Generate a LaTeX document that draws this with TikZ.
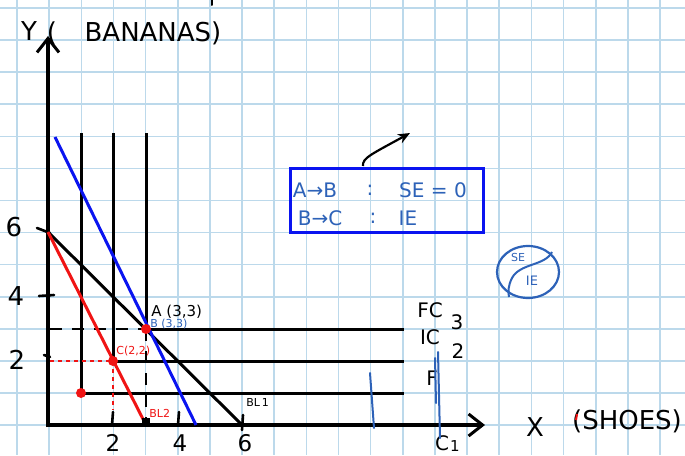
\documentclass[tikz,border=0pt]{standalone}
\usepackage{fontspec}
\setmainfont{DejaVu Sans}
\usetikzlibrary{arrows.meta,shapes.geometric}
\definecolor{gridc}{HTML}{BCD9EB}
\definecolor{penblue}{HTML}{2D62B8}
\definecolor{lineblue}{HTML}{0A14F0}
\definecolor{penred}{HTML}{F01414}
\begin{document}
\begin{tikzpicture}[x=0.5pt,y=-0.5pt,
  axis/.style={line width=1.7pt, -{Straight Barb[length=7pt,width=11pt,line width=1.5pt]}},
  icline/.style={line width=1.5pt, black},
  blk/.style={line width=1.5pt, black},
  redl/.style={line width=1.5pt, penred},
  bluel/.style={line width=1.5pt, lineblue},
  tickm/.style={line width=1.3pt, black, line cap=round},
  dashblk/.style={line width=1.2pt, black, dash pattern=on 6pt off 5pt},
  dotred/.style={line width=1.1pt, penred, dash pattern=on 2pt off 2pt},
  reddot/.style={circle, fill=penred, inner sep=0pt, minimum size=5pt},
  big/.style={font=\fontsize{13}{15}\selectfont, inner sep=0pt},
  bot/.style={font=\fontsize{11.5}{13}\selectfont, inner sep=0pt},
  mid/.style={font=\fontsize{10}{12}\selectfont, inner sep=0pt},
  sml/.style={font=\fontsize{7.5}{9}\selectfont, inner sep=0pt},
  tny/.style={font=\fontsize{5.5}{6}\selectfont, inner sep=0pt},
  penb/.style={line width=1pt, penblue, line cap=round}
]
\useasboundingbox (0,0) rectangle (685,455);
\fill[white] (0,0) rectangle (685,455);
% grid paper
\foreach \k in {0,...,20} \draw[gridc, line width=0.8pt] ({17+32.15*\k},0) -- ({17+32.15*\k},455);
\foreach \k in {0,...,14} \draw[gridc, line width=0.8pt] (0,{8+32.08*\k}) -- (685,{8+32.08*\k});

% axes
\coordinate (O) at (48,427);
\coordinate (Ytip) at (48,36);
\coordinate (Xtip) at (485,425);
\coordinate (Ox) at (46,425);
\draw[axis] (O) -- (Ytip);
\draw[axis] (Ox) -- (Xtip);
\coordinate (topa) at (212,0); \coordinate (topb) at (212,5);
\draw[tickm, line width=1pt] (topa) -- (topb);

% axis labels
\node[big] (ylab) at (29,31) {Y};
\node[big] (ypar) at (52,33) {(};
\node[big] (yname) at (153,33) {BANANAS)};
\node[big] (xlab) at (535,427) {X};
\node[big] (xname) at (627,421) {(SHOES)};
\coordinate (rm1) at (577,414); \coordinate (rm2) at (576,420);
\draw[penred, line width=1pt] (rm1) -- (rm2);

% y ticks and labels
\coordinate (t6a) at (37,228); \coordinate (t6b) at (50,233);
\coordinate (t4a) at (39,296); \coordinate (t4b) at (54,295);
\coordinate (t2a) at (44,355); \coordinate (t2b) at (50,357);
\draw[tickm] (t6a) -- (t6b);
\draw[tickm] (t4a) -- (t4b);
\draw[tickm] (t2a) -- (t2b);
\node[big] (l6) at (14,227) {6};
\node[big] (l4) at (16,296) {4};
\node[big] (l2) at (17,360) {2};

% x ticks and labels
\coordinate (x2a) at (113,412); \coordinate (x2b) at (112,425);
\coordinate (x4a) at (179,412); \coordinate (x4b) at (178,425);
\coordinate (x6a) at (243,415); \coordinate (x6b) at (242,430);
\draw[tickm] (x2a) -- (x2b);
\draw[tickm] (x4a) -- (x4b);
\draw[tickm] (x6a) -- (x6b);
\node[bot] (lx2) at (113,443) {2};
\node[bot] (lx4) at (180,443) {4};
\node[bot] (lx6) at (245,443) {6};

% indifference curves (L-shaped)
\coordinate (D) at (81,393);  \coordinate (Dt) at (81,133);  \coordinate (De) at (404,393);
\coordinate (C) at (113,361); \coordinate (Ct) at (113,133); \coordinate (Ce) at (404,361);
\coordinate (A) at (146,329); \coordinate (At) at (146,133); \coordinate (Ae) at (404,329);
\draw[icline] (Dt) -- (D) -- (De);
\draw[icline] (Ct) -- (C) -- (Ce);
\draw[icline] (At) -- (A) -- (Ae);

% guide lines
\coordinate (Ay) at (50,329); \coordinate (Ax) at (146,423);
\coordinate (Cy) at (50,361); \coordinate (Cx) at (113,410);
\draw[dashblk] (Ay) -- (A);
\draw[dashblk] (A) -- (Ax);
\draw[dotred] (Cy) -- (C);
\draw[dotred] (C) -- (Cx);

% budget lines
\coordinate (Y6) at (48,232);
\coordinate (X6) at (242,425);
\coordinate (X3) at (146,425);
\coordinate (Bt) at (55,137);
\coordinate (Bb) at (196,425);
\draw[blk] (Y6) -- (X6);
\draw[redl] (Y6) -- (X3);
\draw[bluel] (Bt) -- (Bb);

% points
\node[reddot] (pA) at (A) {};
\node[reddot] (pC) at (C) {};
\node[reddot] (pD) at (D) {};
\node[fill=black, inner sep=0pt, minimum size=4pt] (sq) at (146,422) {};

% point labels
\node[sml, anchor=west] (labA) at (151,312) {A (3,3)};
\node[tny, anchor=west, text=penblue] (labB) at (150,324) {B (3,3)};
\node[tny, anchor=west, text=penred] (labC) at (116,351) {C(2,2)};
\node[tny, anchor=west] (bl1) at (246,402) {BL\,1};
\node[tny, anchor=west, text=penred] (bl2) at (149,413) {BL2};

% curve labels
\node[mid] (ic3) at (430,310) {FC};
\node[mid] (ic3n) at (457,322) {3};
\node[mid] (ic2) at (430,337) {IC};
\node[mid] (ic2n) at (458,351) {2};
\node[mid] (ic1) at (432,378) {F};
\node[mid] (c1) at (442,443) {C};
\node[sml] (c1n) at (455,446) {1};

% blue pen marks
\coordinate (m1a) at (370,373); \coordinate (m1b) at (374,428);
\coordinate (m2a) at (435,358); \coordinate (m2b) at (436,403);
\coordinate (m3a) at (438,352); \coordinate (m3b) at (440,438);
\draw[penb] (m1a) -- (m1b);
\draw[penb] (m2a) -- (m2b);
\draw[penb] (m3a) -- (m3b);

% box
\node[draw=lineblue, line width=1.5pt, minimum width=96.5pt, minimum height=32pt, inner sep=0pt] (box) at (386.5,200) {};
\node[mid, text=penblue] (r1a) at (315,190) {A→B};
\node[mid, text=penblue] (r1b) at (370,190) {:};
\node[mid, text=penblue] (r1c) at (433,190) {SE = 0};
\node[mid, text=penblue] (r2a) at (320,218) {B→C};
\node[mid, text=penblue] (r2b) at (373,218) {:};
\node[mid, text=penblue] (r2c) at (408,218) {IE};

% arrow above box
\coordinate (ar1) at (363,166);
\coordinate (ar2) at (410,133);
\draw[line width=1.1pt, -{Stealth[length=6pt,width=5pt]}] (ar1) .. controls (362,158) and (372,154) .. (ar2);

% circle with SE / IE
\node[draw=penblue, line width=1.1pt, ellipse, minimum width=31pt, minimum height=26pt, inner sep=0pt] (circ) at (528,272) {};
\coordinate (s1) at (552,252);
\coordinate (s2) at (512,278);
\coordinate (s3) at (509,297);
\draw[penblue, line width=1pt] (s1) .. controls (545,266) and (520,263) .. (s2) .. controls (508,286) and (508,292) .. (s3);
\node[tny, text=penblue] (cse) at (518,257) {SE};
\node[tny, text=penblue, font=\fontsize{6.5}{7}\selectfont] (cie) at (532,281) {IE};
\end{tikzpicture}
\end{document}
